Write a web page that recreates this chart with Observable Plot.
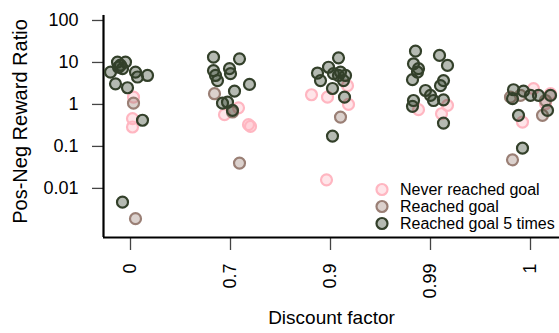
<!DOCTYPE html>
<html><head><meta charset="utf-8">
<script src="https://cdn.jsdelivr.net/npm/d3@7"></script>
<script src="https://cdn.jsdelivr.net/npm/@observablehq/plot@0.6"></script>
<style>
body{margin:0;background:#fff;font-family:"Liberation Sans",Arial,sans-serif;}
#wrap{position:relative;width:559px;height:333px;overflow:hidden;}
#legend{position:absolute;left:374px;top:181px;font-size:16px;color:#000;}
#legend .row{display:flex;align-items:center;height:17px;white-space:nowrap;}
#legend svg{margin-right:10px;overflow:visible;}
</style></head><body><div id="wrap"></div>
<script>
const factors = ["0", "0.7", "0.9", "0.99", "1"];
const seriesNames = ["Never reached goal", "Reached goal", "Reached goal 5 times"];
const yTicks = [0.01, 0.1, 1, 10, 100];
const yTickLabels = ["0.01", "0.1", "1", "10", "100"];

// [discount factor, horizontal jitter (category units), ratio]
const neverReached = [
  ["0", 0.03, 1.49], ["0", 0.02, 0.46], ["0", 0.02, 0.29],
  ["0.7", -0.06, 0.57], ["0.7", 0.08, 0.83], ["0.7", 0.18, 0.33], ["0.7", 0.20, 0.30],
  ["0.9", -0.19, 1.7], ["0.9", -0.03, 1.49], ["0.9", 0.18, 1.0], ["0.9", 0.17, 2.8], ["0.9", -0.04, 0.016],
  ["0.99", -0.12, 0.75], ["0.99", 0.17, 0.95], ["0.99", 0.11, 0.6],
  ["1", 0.03, 2.37], ["1", -0.08, 0.38], ["1", 0.20, 1.8], ["1", 0.15, 1.04]
];
const reachedGoal = [
  ["0", 0.03, 1.07], ["0", 0.05, 0.0019],
  ["0.7", -0.16, 1.8], ["0.7", 0.09, 0.04], ["0.7", 0.02, 0.66],
  ["0.9", 0.10, 0.5],
  ["1", -0.20, 1.49], ["1", -0.10, 1.64], ["1", 0.12, 0.55], ["1", -0.18, 0.048], ["1", 0.15, 1.24]
];
const reachedGoal5 = [
  ["0", -0.13, 10.2], ["0", -0.05, 10.2], ["0", -0.12, 7.7], ["0", -0.08, 7.1], ["0", -0.20, 5.9],
  ["0", 0.05, 5.9], ["0", 0.07, 4.5], ["0", 0.17, 4.9], ["0", -0.15, 3.1], ["0", -0.03, 2.5],
  ["0", 0.12, 0.42], ["0", -0.08, 0.0047], ["0", -0.10, 8.6],
  ["0.7", -0.17, 13.4], ["0.7", 0.09, 12.2], ["0.7", -0.17, 6.4], ["0.7", -0.15, 4.9], ["0.7", -0.13, 3.7],
  ["0.7", -0.01, 7.1], ["0.7", 0.00, 5.4], ["0.7", 0.19, 3.0], ["0.7", 0.04, 2.07], ["0.7", -0.08, 1.07],
  ["0.7", -0.03, 1.13], ["0.7", 0.02, 0.72],
  ["0.9", 0.08, 12.9], ["0.9", -0.13, 5.6], ["0.9", -0.10, 3.7], ["0.9", -0.02, 7.7], ["0.9", 0.03, 5.4],
  ["0.9", 0.08, 4.9], ["0.9", 0.15, 4.9], ["0.9", 0.13, 3.7], ["0.9", 0.02, 2.4], ["0.9", 0.14, 1.49],
  ["0.9", 0.02, 0.176], ["0.9", 0.10, 5.9],
  ["0.99", -0.15, 18.6], ["0.99", 0.09, 14.7], ["0.99", 0.17, 8.5], ["0.99", -0.17, 9.3], ["0.99", -0.12, 7.1],
  ["0.99", -0.13, 5.9], ["0.99", -0.18, 3.9], ["0.99", 0.13, 3.7], ["0.99", 0.10, 2.8], ["0.99", -0.05, 2.15],
  ["0.99", 0.00, 1.64], ["0.99", 0.03, 1.24], ["0.99", 0.13, 1.29], ["0.99", -0.17, 1.24], ["0.99", -0.18, 0.9],
  ["0.99", 0.13, 0.36],
  ["1", -0.17, 2.24], ["1", -0.07, 2.07], ["1", 0.00, 1.64], ["1", 0.08, 1.64], ["1", 0.20, 1.64],
  ["1", -0.18, 1.37], ["1", 0.17, 0.72], ["1", -0.12, 0.55], ["1", -0.08, 0.091]
];

const colors = ["#ffb6c1", "#9a7f75", "#33402a"];
const seriesData = [neverReached, reachedGoal, reachedGoal5];
const rows = seriesData.flatMap((arr, s) => arr.map(([f, j, v]) => ({
  series: seriesNames[s], pos: factors.indexOf(f) + 1 + j, ratio: v
})));

const xDomain = [0.73, 5.29];
const yDomain = [10 ** -3.17, 10 ** 2.357];
const yAxisTop = 10 ** 2.12;

const chart = Plot.plot({
  width: 559, height: 333,
  marginLeft: 103, marginRight: 0, marginTop: 5, marginBottom: 96,
  style: {fontFamily: "'Liberation Sans', Arial, sans-serif", fontSize: "18px", color: "#000", background: "#fff"},
  x: {type: "linear", domain: xDomain},
  y: {type: "log", domain: yDomain},
  color: {domain: seriesNames, range: colors},
  marks: [
    Plot.axisY({ticks: yTicks, tickFormat: d => yTickLabels[yTicks.indexOf(d)], tickSize: 11, tickPadding: 14,
      stroke: "#444", strokeWidth: 1.3, label: null, fontSize: 18}),
    Plot.axisY({ticks: [], label: "Pos-Neg Reward Ratio", labelAnchor: "center", labelArrow: "none",
      labelOffset: 91, fontSize: 20}),
    Plot.axisX({ticks: [1, 2, 3, 4, 5], tickFormat: i => factors[i - 1], tickRotate: -90, tickSize: 13, tickPadding: 13,
      stroke: "#444", strokeWidth: 1.3, label: null, fontSize: 18}),
    Plot.axisX({ticks: [], label: "Discount factor", labelAnchor: "center", labelArrow: "none",
      labelOffset: 86, fontSize: 19}),
    Plot.ruleX([xDomain[0]], {y1: () => yAxisTop, y2: () => yDomain[0], stroke: "#000", strokeWidth: 2.2}),
    Plot.ruleY([yDomain[0]], {stroke: "#000", strokeWidth: 2.2}),
    Plot.dot(rows, {x: "pos", y: "ratio", r: 5.5, stroke: "series", fill: "series", fillOpacity: 0.36, strokeWidth: 2.2})
  ]
});
const wrap = document.getElementById("wrap");
wrap.appendChild(chart);

const legend = document.createElement("div");
legend.id = "legend";
seriesNames.forEach((name, i) => {
  const row = document.createElement("div");
  row.className = "row";
  row.innerHTML = `<svg width="16" height="17"><circle cx="8" cy="8.5" r="5.5" fill="${colors[i]}" fill-opacity="0.36" stroke="${colors[i]}" stroke-width="2.2"/></svg><span>${name}</span>`;
  legend.appendChild(row);
});
wrap.appendChild(legend);
</script></body></html>
